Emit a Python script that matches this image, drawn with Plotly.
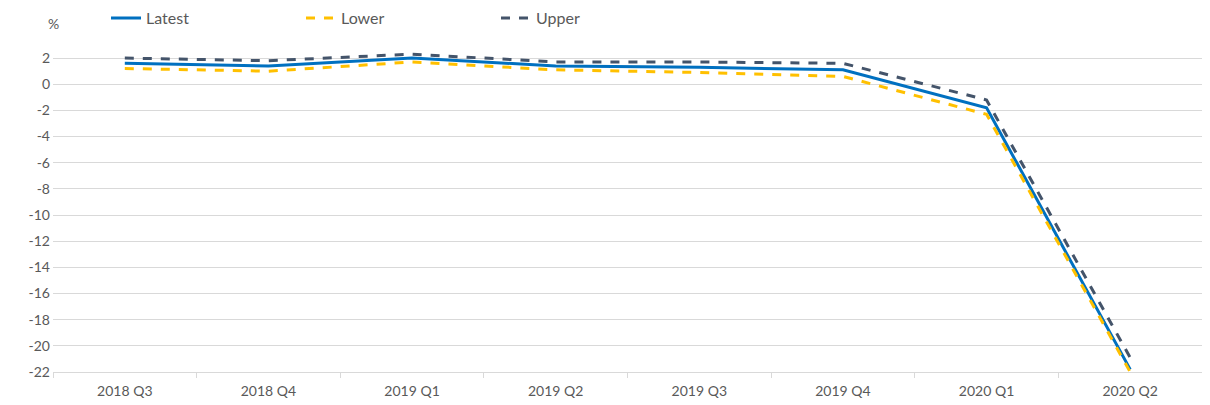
import plotly.graph_objects as go

categories = ["2018 Q3", "2018 Q4", "2019 Q1", "2019 Q2", "2019 Q3", "2019 Q4", "2020 Q1", "2020 Q2"]
latest = [1.6, 1.4, 2.0, 1.4, 1.3, 1.1, -1.8, -21.8]
lower = [1.2, 1.0, 1.7, 1.1, 0.9, 0.6, -2.3, -22.0]
upper = [2.0, 1.8, 2.3, 1.7, 1.7, 1.6, -1.2, -20.9]
y_ticks = list(range(-22, 3, 2))
y_tick_text = [str(v).replace("\u2212", "-") for v in y_ticks]

fig = go.Figure()
fig.add_trace(go.Scatter(x=categories, y=latest, name="Latest", mode="lines",
                         line=dict(color="#0070C0", width=3)))
fig.add_trace(go.Scatter(x=categories, y=lower, name="Lower", mode="lines",
                         line=dict(color="#FFC000", width=3, dash="dash")))
fig.add_trace(go.Scatter(x=categories, y=upper, name="Upper", mode="lines",
                         line=dict(color="#44546A", width=3, dash="dash")))

font_color = "#595959"
fig.update_layout(
    width=1210, height=405,
    margin=dict(l=45, r=16, t=37, b=41, autoexpand=False),
    paper_bgcolor="white", plot_bgcolor="white",
    font=dict(family="Lato, Liberation Sans, sans-serif", size=14, color=font_color),
    showlegend=True,
    legend=dict(orientation="h", xref="container", x=0.081, xanchor="left",
                yref="container", y=0.975, yanchor="middle",
                entrywidth=150, entrywidthmode="pixels", itemwidth=30,
                font=dict(size=16, color=font_color), bgcolor="rgba(0,0,0,0)"),
    xaxis=dict(type="category", range=[-0.5, 7.5], automargin=False, showgrid=False,
               showline=True, linecolor="#D9D9D9",
               linewidth=1, ticks="outside", tickson="boundaries", ticklen=5,
               ticklabelstandoff=6,
               tickcolor="#D9D9D9", tickfont=dict(size=14, color=font_color), fixedrange=True),
    yaxis=dict(range=[-22, 3], tickvals=y_ticks, ticktext=y_tick_text, automargin=False,
               showgrid=True, gridcolor="#D9D9D9", ticklabelstandoff=2,
               gridwidth=1, zeroline=False, showline=False,
               tickfont=dict(size=14, color=font_color), ticks="", fixedrange=True),
)
fig.add_annotation(text="%", xref="paper", yref="paper", x=0.0, y=1.065,
                   xanchor="center", yanchor="middle", showarrow=False,
                   font=dict(size=14, color=font_color))
fig.write_html("out.html")
